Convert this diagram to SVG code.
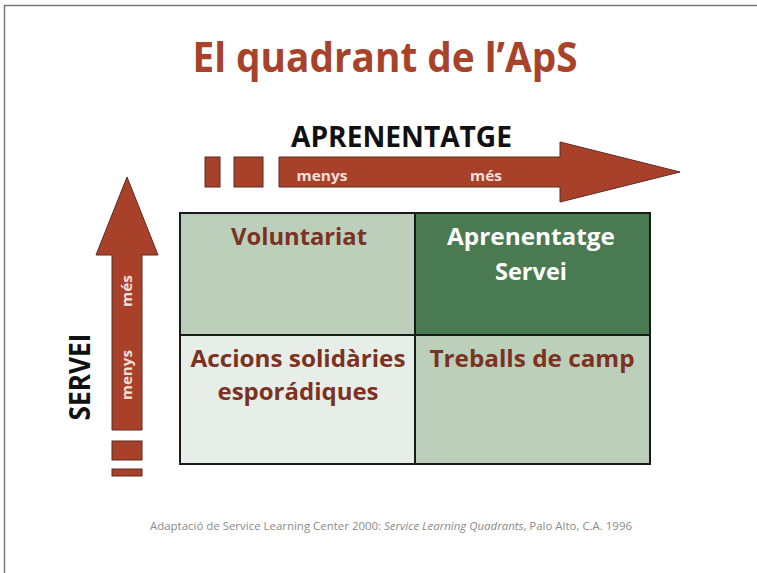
<svg xmlns="http://www.w3.org/2000/svg" width="757" height="573" viewBox="0 0 757 573">
  <style>
    .f { font-family: "Open Sans", "Noto Sans", "DejaVu Sans", sans-serif; font-weight: 700; }
    .arrow { fill: #a8412a; stroke: #5e2a1c; stroke-width: 1; }
    .cell { stroke: #1a1a1a; stroke-width: 2; }
    .lbl { fill: #7b3222; font-size: 24px; text-anchor: middle; }
    .wlbl { fill: #ffffff; font-size: 24px; text-anchor: middle; }
    .small { fill: #f3e0da; font-size: 15px; text-anchor: middle; }
    .axis { fill: #111111; font-size: 29px; text-anchor: middle; }
  </style>
  <rect x="0" y="0" width="757" height="573" fill="#ffffff"/>
  <g id="frame">
    <line x1="4" y1="5.5" x2="757" y2="5.5" stroke="#7a7a7a" stroke-width="1.5"/>
    <line x1="4.5" y1="5" x2="4.5" y2="573" stroke="#7a7a7a" stroke-width="1.5"/>
  </g>
  <g id="title">
    <text class="f" x="385" y="72" font-size="41" fill="#a8432b" text-anchor="middle" textLength="385" lengthAdjust="spacingAndGlyphs">El quadrant de l’ApS</text>
  </g>
  <g id="connectors">
    <g id="arrow-aprenentatge">
      <rect class="arrow" x="205" y="157" width="15" height="30"/>
      <rect class="arrow" x="234" y="157" width="29" height="30"/>
      <polygon class="arrow" points="279,157 560,157 560,142 680,172 560,202 560,187 279,187"/>
      <text class="f small" x="322" y="181" textLength="51" lengthAdjust="spacingAndGlyphs">menys</text>
      <text class="f small" x="486" y="181" textLength="32" lengthAdjust="spacingAndGlyphs">més</text>
    </g>
    <g id="arrow-servei">
      <polygon class="arrow" points="112,430 112,255 96,255 127,177 158,255 142,255 142,430"/>
      <rect class="arrow" x="112" y="441" width="30" height="19"/>
      <rect class="arrow" x="112" y="469" width="30" height="7"/>
      <text class="f small" transform="translate(132,375) rotate(-90)" textLength="50" lengthAdjust="spacingAndGlyphs">menys</text>
      <text class="f small" transform="translate(132,291) rotate(-90)" textLength="32" lengthAdjust="spacingAndGlyphs">més</text>
    </g>
  </g>
  <g id="axis-aprenentatge">
    <text class="f axis" x="401.5" y="147" textLength="221" lengthAdjust="spacingAndGlyphs">APRENENTATGE</text>
  </g>
  <g id="axis-servei">
    <text class="f axis" transform="translate(90,377) rotate(-90)" textLength="87" lengthAdjust="spacingAndGlyphs">SERVEI</text>
  </g>
  <g id="cell-voluntariat">
    <rect class="cell" x="180" y="213" width="235" height="122" fill="#bbcfba"/>
    <text class="f lbl" x="299" y="245" textLength="136" lengthAdjust="spacingAndGlyphs">Voluntariat</text>
  </g>
  <g id="cell-aps">
    <rect class="cell" x="415" y="213" width="235" height="122" fill="#4a7a52"/>
    <text class="f wlbl" x="531" y="245" textLength="168" lengthAdjust="spacingAndGlyphs">Aprenentatge</text>
    <text class="f wlbl" x="531" y="280" textLength="72" lengthAdjust="spacingAndGlyphs">Servei</text>
  </g>
  <g id="cell-accions">
    <rect class="cell" x="180" y="335" width="235" height="129" fill="#e7eee7"/>
    <text class="f lbl" x="298" y="367" textLength="215" lengthAdjust="spacingAndGlyphs">Accions solidàries</text>
    <text class="f lbl" x="298" y="400" textLength="161" lengthAdjust="spacingAndGlyphs">esporádiques</text>
  </g>
  <g id="cell-treballs">
    <rect class="cell" x="415" y="335" width="235" height="129" fill="#bbcfba"/>
    <text class="f lbl" x="532" y="367" textLength="205" lengthAdjust="spacingAndGlyphs">Treballs de camp</text>
  </g>
  <g id="footer">
    <text x="391" y="530" font-family="'Open Sans', 'Noto Sans', sans-serif" font-size="11" fill="#8a8a8a" text-anchor="middle" textLength="482" lengthAdjust="spacingAndGlyphs">Adaptació de Service Learning Center 2000: <tspan font-style="italic">Service Learning Quadrants</tspan>, Palo Alto, C.A. 1996</text>
  </g>
</svg>
